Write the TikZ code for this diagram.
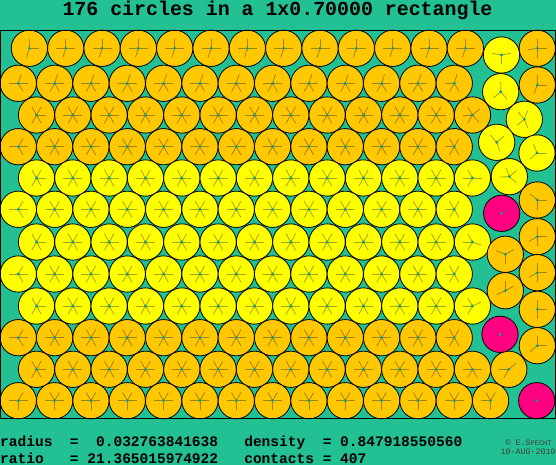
\documentclass[tikz,border=0pt]{standalone}
\usepackage{fontspec}
\setmonofont{Liberation Mono}
\definecolor{sea}{RGB}{34,192,146}
\definecolor{amber}{RGB}{255,200,0}
\definecolor{lemon}{RGB}{255,255,0}
\definecolor{rattler}{RGB}{255,0,128}
\definecolor{hubteal}{RGB}{16,158,160}

% one disc: x, y, fill, list of contact angles
\newcommand\disc[4]{%
  \filldraw[disc, fill=#3] (#1,#2) circle [radius=18.15];
  \edef\angs{#4}%
  \foreach \ang in \angs {\draw[spoke] (#1,#2) -- ++(\ang:9.5);}
  \fill[hub] (#1,#2) circle [radius=1.6];}

\begin{document}
\begin{tikzpicture}[x=1pt, y=-1pt,
    disc/.style={draw=black, line width=.8pt},
    spoke/.style={black, opacity=.35, line width=.8pt},
    hub/.style={fill=hubteal},
    stat/.style={font=\ttfamily\bfseries\fontsize{14.53}{17}\selectfont, inner sep=0},
    sig/.style={font=\ttfamily\fontsize{8.3}{9}\selectfont, inner sep=0, text=black!75}]
  \useasboundingbox (0,0) rectangle (556,465);
  \fill[sea] (0,0) rectangle (556,465);

  % row 1
  \disc{29.4}{48.3}{amber}{0,270,107.6}
  \foreach \k in {1,...,12} {\disc{29.4+36.33*\k}{48.3}{amber}{0,180,270,107.6}}
  % row 2
  \disc{18.3}{83.3}{amber}{0,180,287.6,60}
  \foreach \k in {1,...,11} {\disc{18.3+36.33*\k}{83.3}{amber}{0,180,287.6,60,120}}
  \disc{454.26}{83.3}{amber}{180,287.6,60,120}
  % rows 3 to 11
  \foreach \y/\xo/\col in {115/36.5/amber, 146.7/18.3/amber, 178/36.5/lemon,
      209.3/18.3/lemon, 242/36.5/lemon, 274/18.3/lemon, 306/36.5/lemon,
      337.7/18.3/amber, 369.3/36.5/amber}
    \foreach \k in {1,...,11} {\disc{\xo+36.33*\k}{\y}{\col}{0,60,120,180,240,300}}
  \foreach \y/\col in {115/amber, 178/lemon, 242/lemon, 306/lemon, 369.3/amber}
    {\disc{36.5}{\y}{\col}{0,60,120,240,300}}
  \foreach \y/\col in {146.7/amber, 209.3/lemon, 274/lemon, 337.7/amber}
    {\disc{18.3}{\y}{\col}{0,180,300,60}}
  \disc{472.46}{115}{amber}{180,240,120,320,48}
  \disc{454.26}{146.7}{amber}{180,240,300,120,60}
  \disc{472.46}{178}{lemon}{0,180,240,120}
  \disc{454.26}{209.3}{lemon}{180,240,300,120,60}
  \disc{472.46}{242}{lemon}{20,180,240,120}
  \disc{454.26}{274}{lemon}{180,240,300,120,60}
  \disc{472.46}{306}{lemon}{335,180,240,120}
  \disc{454.26}{337.7}{amber}{180,240,300,120,60}
  \disc{472.46}{369.3}{amber}{0,180,240,60,120}
  \disc{508.79}{369.3}{amber}{180,120,320}
  % row 12
  \disc{18.3}{400.7}{amber}{0,180,300,90}
  \foreach \k in {1,...,12} {\disc{18.3+36.33*\k}{400.7}{amber}{0,180,240,300,90}}
  \disc{490.59}{400.7}{amber}{180,240,300,90}

  % right-hand column
  \foreach \x/\y/\col/\as in {501.5/55/lemon/{190,349,91}, 537.3/48.3/amber/{171,270,0,90},
      500.7/91.7/lemon/{271,140,50}, 537.3/85/amber/{270,0,111},
      524.3/119.3/lemon/{230,291,69,140}, 496.7/142.3/lemon/{228,320,70},
      537/153/lemon/{249,0,139}, 509.3/176.7/lemon/{178,250,319,40},
      537.3/200/amber/{220,0,90}, 505.3/254.3/amber/{201,331,90},
      537.3/236.7/amber/{270,0,151,90}, 505.3/290.7/amber/{270,331,155},
      537.3/272.7/amber/{270,0,151,90}, 537.3/309.3/amber/{270,0,90},
      537.3/345.7/amber/{270,0,140}}
    {\disc{\x}{\y}{\col}{\as}}
  \foreach \x/\y in {501.7/213.3, 500/334.3, 536.7/400.7} {
    \filldraw[disc, fill=rattler] (\x,\y) circle [radius=18.15];
    \fill[hub] (\x,\y) circle [radius=1.6];}

  \draw[black, line width=1.3pt] (0.5,30.3) rectangle (555.4,418.8);

  \node[anchor=base, inner sep=0, font=\ttfamily\bfseries\fontsize{19.9}{22}\selectfont]
    (title) at (277.5,15.2) {176 circles in a 1x0.70000 rectangle};
  \node[anchor=base west, stat] (radius) at (0,446.8)
    {radius~~=~~0.032763841638~~~density~~=~0.847918550560};
  \node[anchor=base west, stat] (ratio) at (0,463)
    {ratio~~~=~21.365015974922~~~contacts~=~407};
  \node[anchor=base west, sig] (sign) at (505.5,445.3) {©~E.S{\fontsize{7}{8}\selectfont PECHT}};
  \node[anchor=base west, sig] (date) at (500.5,454.8) {10-AUG-2010};
\end{tikzpicture}
\end{document}
